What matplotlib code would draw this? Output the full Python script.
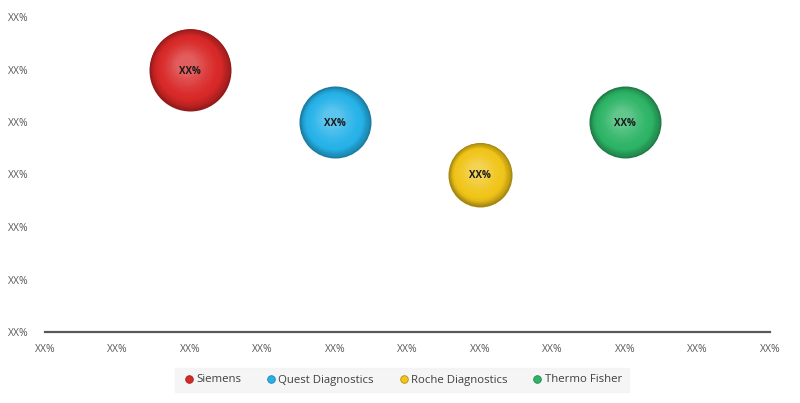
import matplotlib
matplotlib.use("Agg")
import matplotlib.pyplot as plt
import matplotlib.transforms as mtransforms
from matplotlib.colors import to_rgb
import numpy as np

plt.rcParams['font.family'] = ['Open Sans', 'DejaVu Sans']

companies = ["Siemens", "Quest Diagnostics", "Roche Diagnostics", "Thermo Fisher"]
x_vals = [2, 4, 6, 8]
y_vals = [5, 4, 3, 4]
bubble_vals = [41, 36, 32, 36]
bubble_labels = ["XX%", "XX%", "XX%", "XX%"]
colors = ["#d82828", "#26b2e8", "#f0c418", "#2db466"]
x_ticks = list(range(0, 11))
y_ticks = list(range(0, 7))
tick_label = "XX%"

fig = plt.figure(figsize=(8.0, 4.03), dpi=100)
ax = fig.add_axes([45/800, 1-332/403, 725/800, 315/403])
ax.set_xlim(0, 10)
ax.set_ylim(0, 6)

def mix(c, t, w):
    c = np.array(to_rgb(c)); t = np.array(to_rgb(t))
    return tuple(np.clip(c*(1-w) + t*w, 0, 1))

for x, y, v, c, lab in zip(x_vals, y_vals, bubble_vals, colors, bubble_labels):
    d_pt = 2*v*0.72
    n = 50
    for i in range(n):
        f = i/(n-1)
        dia = d_pt*(1.0 - 0.75*f)
        off = 0.10*d_pt*f
        tr = mtransforms.offset_copy(ax.transData, fig=fig, x=-off*0.5, y=off*0.6, units='points')
        if f < 0.3:
            col = mix(c, "black", 0.32*(1-f/0.3)**1.3)
        else:
            col = mix(c, "white", 0.25*((f-0.3)/0.7)**1.4)
        ax.scatter([x], [y], s=dia**2, color=col, zorder=3, linewidths=0, transform=tr)
    ax.text(x, y, lab, ha='center', va='center_baseline', fontsize=7, fontweight='bold',
            color="#1a1a1a", zorder=5)

ax.set_xticks(x_ticks)
ax.set_yticks(y_ticks)
ax.set_xticklabels([tick_label]*len(x_ticks), fontsize=7.5, color="#595959")
ax.set_yticklabels([tick_label]*len(y_ticks), fontsize=7.5, color="#595959")
ax.tick_params(length=0, pad=12)
ax.tick_params(axis='x', pad=9)
for s in ["top", "right", "left"]:
    ax.spines[s].set_visible(False)
ax.spines["bottom"].set_color("#595959")
ax.spines["bottom"].set_linewidth(1.6)

handles = [plt.Line2D([], [], marker='o', linestyle='', markersize=5.5,
                      markerfacecolor=c, markeredgecolor=mix(c, "black", 0.25),
                      markeredgewidth=0.6)
           for c in colors]
leg = fig.legend(handles, companies, loc='center', bbox_to_anchor=(402/800, 1-380/403),
                 ncol=4, frameon=True, fontsize=8.2, handletextpad=0.05,
                 columnspacing=2.0, borderpad=0.6, fancybox=False, handlelength=1.2)
leg.get_frame().set_facecolor("#f3f3f3")
leg.get_frame().set_edgecolor("#f3f3f3")
for t in leg.get_texts():
    t.set_color("#404040")

fig.savefig("out.png", dpi=100)
